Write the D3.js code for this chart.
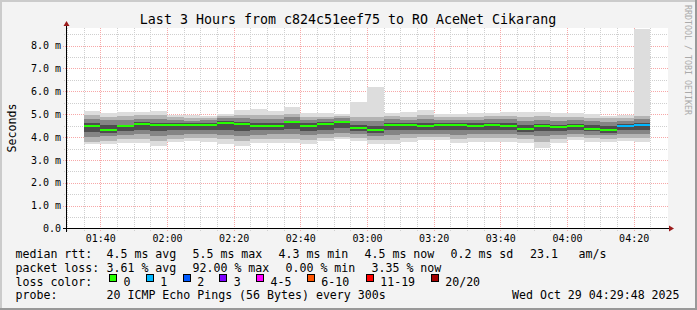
<!DOCTYPE html>
<html>
<head>
<meta charset="utf-8">
<script src="https://d3js.org/d3.v7.min.js"></script>
<style>
  body { margin: 0; background: #fff; }
  svg text { font-family: "DejaVu Sans Mono", monospace; fill: #000; }
</style>
</head>
<body>
<script>

// 5 minute steps, end time of each step
var times = ["01:40","01:45","01:50","01:55","02:00","02:05","02:10","02:15","02:20","02:25",
             "02:30","02:35","02:40","02:45","02:50","02:55","03:00","03:05","03:10","03:15",
             "03:20","03:25","03:30","03:35","03:40","03:45","03:50","03:55","04:00","04:05",
             "04:10","04:15","04:20","04:25"];

// smoke bands in ms (outer -> inner) and median
var pingMin = [3.68,3.68,3.75,3.75,3.62,3.78,3.83,3.80,3.71,3.62,3.75,3.75,3.75,3.68,3.83,3.90,3.83,
               3.68,3.68,3.80,3.87,3.87,3.72,3.80,3.80,3.80,3.72,3.53,3.72,3.87,3.80,3.78,3.83,3.77];
var band2lo = [3.80,3.85,3.90,3.92,3.85,3.92,3.95,3.95,3.90,3.85,3.92,3.92,3.92,3.88,3.98,4.02,3.98,
               3.88,3.88,3.95,4.00,4.00,3.92,3.95,3.95,3.95,3.90,3.80,3.90,4.00,3.95,3.92,3.98,3.95];
var band3lo = [4.02,4.05,4.10,4.12,4.05,4.10,4.12,4.12,4.10,4.05,4.10,4.12,4.12,4.08,4.15,4.18,4.12,
               4.05,4.08,4.12,4.15,4.15,4.10,4.12,4.12,4.12,4.08,4.05,4.08,4.15,4.10,4.08,4.12,4.12];
var band4lo = [4.24,4.20,4.25,4.30,4.28,4.30,4.32,4.30,4.32,4.28,4.30,4.30,4.35,4.28,4.32,4.38,4.28,
               4.20,4.30,4.30,4.32,4.32,4.30,4.30,4.32,4.30,4.22,4.28,4.25,4.30,4.25,4.20,4.30,4.30];
var median  = [4.47,4.32,4.47,4.57,4.54,4.54,4.54,4.54,4.63,4.57,4.50,4.50,4.64,4.50,4.57,4.64,4.39,
               4.32,4.54,4.51,4.50,4.54,4.54,4.50,4.54,4.50,4.37,4.47,4.42,4.47,4.37,4.32,4.50,4.54];
var band4hi = [4.60,4.55,4.55,4.65,4.62,4.60,4.60,4.62,4.70,4.66,4.62,4.60,4.72,4.60,4.65,4.70,4.55,
               4.50,4.62,4.60,4.60,4.62,4.62,4.60,4.62,4.60,4.52,4.58,4.55,4.58,4.52,4.48,4.58,4.62];
var band3hi = [4.79,4.75,4.75,4.80,4.78,4.75,4.72,4.75,4.82,4.82,4.80,4.78,4.88,4.75,4.78,4.82,4.72,
               4.70,4.78,4.75,4.78,4.75,4.75,4.75,4.78,4.78,4.72,4.75,4.72,4.75,4.70,4.65,4.72,4.78];
var band2hi = [4.96,4.90,4.92,4.95,4.95,4.88,4.85,4.85,4.92,4.98,4.98,4.95,5.02,4.90,4.90,4.92,4.88,
               4.88,4.92,4.90,4.95,4.88,4.88,4.90,4.92,4.92,4.90,4.92,4.88,4.90,4.85,4.82,4.85,4.92];
var pingMax = [5.14,5.04,5.08,5.08,5.14,4.98,4.98,4.92,5.00,5.18,5.22,5.14,5.32,5.04,5.04,5.00,5.52,
               6.20,5.04,5.08,5.18,5.00,5.00,5.04,5.04,5.08,5.08,5.08,5.04,5.04,5.00,4.93,4.98,8.80];
// lost pings out of 20
var lost    = [0,0,0,0,0,0,0,0,0,0,0,0,0,0,0,0,0,0,0,0,0,0,0,0,0,0,0,0,0,0,0,0,1,1];

var yTicks = [0,1,2,3,4,5,6,7,8];
var lossLabels = ["0","1","2","3","4-5","6-10","11-19","20/20"];
var lossColors = ["#26ff00","#00b8ff","#0059ff","#7e00ff","#ff00ff","#ff5500","#ff0000","#a10000"];

var W = 697, H = 310;
var day = "2025-10-29T";

var svg = d3.select("body").append("svg")
    .attr("width", W)
    .attr("height", H);

// background and frame
svg.append("rect").attr("width", W).attr("height", H).attr("fill", "#f3f3f3");
svg.append("rect").attr("x", 0).attr("y", 0).attr("width", W).attr("height", 2).attr("fill", "#cbcbcb");
svg.append("rect").attr("x", 0).attr("y", 0).attr("width", 2).attr("height", H).attr("fill", "#cbcbcb");
svg.append("rect").attr("x", W - 2).attr("y", 0).attr("width", 2).attr("height", H).attr("fill", "#999");
svg.append("rect").attr("x", 0).attr("y", H - 2).attr("width", W).attr("height", 2).attr("fill", "#999");

var x = d3.scaleUtc()
    .domain([new Date(day + "01:30:00Z"), new Date(day + "04:30:00Z")])
    .range([67, 667]);
var y = d3.scaleLinear()
    .domain([0, 8.75])
    .range([228.5, 28.5]);

// canvas
svg.append("rect").attr("x", 67).attr("y", 28).attr("width", 601).attr("height", 201).attr("fill", "#fff");

var grid = svg.append("g");
var minorT = d3.utcMinute.every(5).range(x.domain()[0], x.domain()[1]).filter(function(t) { return t.getUTCMinutes() % 20 != 0; });
var majorT = x.ticks(d3.utcMinute.every(20));

grid.selectAll(".vminor").data(minorT).enter().append("line")
    .attr("x1", function(d) { return Math.round(x(d)) + 0.5; })
    .attr("x2", function(d) { return Math.round(x(d)) + 0.5; })
    .attr("y1", 28).attr("y2", 231)
    .attr("stroke", "#cfcfcf").attr("stroke-dasharray", "1,1");

var halfTicks = yTicks.map(function(v) { return v + 0.5; });
grid.selectAll(".hminor").data(halfTicks).enter().append("line")
    .attr("x1", 64).attr("x2", 668)
    .attr("y1", function(d) { return Math.round(y(d)) + 0.5; })
    .attr("y2", function(d) { return Math.round(y(d)) + 0.5; })
    .attr("stroke", "#cfcfcf").attr("stroke-dasharray", "1,1");

grid.selectAll(".vmajor").data(majorT).enter().append("line")
    .attr("x1", function(d) { return Math.round(x(d)) + 0.5; })
    .attr("x2", function(d) { return Math.round(x(d)) + 0.5; })
    .attr("y1", 28).attr("y2", 232)
    .attr("stroke", "#f7a8a8").attr("stroke-dasharray", "1,1");

grid.selectAll(".hmajor").data(yTicks.slice(1)).enter().append("line")
    .attr("x1", 63).attr("x2", 668)
    .attr("y1", function(d) { return Math.round(y(d)) + 0.5; })
    .attr("y2", function(d) { return Math.round(y(d)) + 0.5; })
    .attr("stroke", "#f7a8a8").attr("stroke-dasharray", "1,1");

// smoke
var cols = times.map(function(t, i) {
  var end = new Date(day + t + ":00Z");
  return {
    x0: x(new Date(end.getTime() - 5 * 60000)), x1: x(end),
    bands: [[pingMin[i], pingMax[i]], [band2lo[i], band2hi[i]], [band3lo[i], band3hi[i]], [band4lo[i], band4hi[i]]],
    med: median[i], lost: lost[i]
  };
});
var shades = ["#dddddd", "#b4b4b4", "#858585", "#4e4e4e"];

var smoke = svg.append("g");
cols.forEach(function(c) {
  c.bands.forEach(function(b, k) {
    smoke.append("rect")
        .attr("x", Math.round(c.x0)).attr("width", Math.round(c.x1) - Math.round(c.x0))
        .attr("y", Math.round(y(Math.min(b[1], 8.75))))
        .attr("height", Math.round(y(b[0])) - Math.round(y(Math.min(b[1], 8.75))))
        .attr("fill", shades[k]);
  });
});

function lossColor(n) {
  if (n <= 3) return lossColors[n];
  if (n <= 5) return lossColors[4];
  if (n <= 10) return lossColors[5];
  if (n <= 19) return lossColors[6];
  return lossColors[7];
}

svg.append("g").selectAll("rect").data(cols).enter().append("rect")
    .attr("x", function(d) { return Math.round(d.x0); })
    .attr("width", function(d) { return Math.round(d.x1) - Math.round(d.x0); })
    .attr("y", function(d) { return Math.round(y(d.med)) - 1; })
    .attr("height", 2)
    .attr("fill", function(d) { return lossColor(d.lost); });

// axes lines and arrows
svg.append("line").attr("x1", 63).attr("x2", 670).attr("y1", 228.5).attr("y2", 228.5).attr("stroke", "#000");
svg.append("line").attr("x1", 66.5).attr("x2", 66.5).attr("y1", 232).attr("y2", 25).attr("stroke", "#000");
svg.append("path").attr("d", "M669,225.5 L674,228.5 L669,231.5 Z").attr("fill", "#9b1c1c");
svg.append("path").attr("d", "M63.5,26 L66.5,21 L69.5,26 Z").attr("fill", "#9b1c1c");

// tick labels
svg.append("g")
    .attr("transform", "translate(61,0)")
    .call(d3.axisLeft(y).tickValues(yTicks).tickSize(0).tickPadding(0)
      .tickFormat(function(v) { return v === 0 ? "0.0" : v.toFixed(1) + " m"; }))
    .call(function(g) { g.select(".domain").remove(); })
    .selectAll("text").style("font-size", "10px").style("font-family", "DejaVu Sans Mono");

svg.append("g")
    .attr("transform", "translate(0,228.5)")
    .call(d3.axisBottom(x).ticks(d3.utcMinute.every(20)).tickSize(0).tickPadding(6.5)
      .tickFormat(d3.utcFormat("%H:%M")))
    .call(function(g) { g.select(".domain").remove(); })
    .selectAll("text").style("font-size", "10px").style("font-family", "DejaVu Sans Mono");

// titles
svg.append("text").attr("x", 348).attr("y", 24).attr("text-anchor", "middle")
    .style("font-size", "13.3px")
    .text("Last 3 Hours from c824c51eef75 to RO AceNet Cikarang");

svg.append("text").attr("transform", "translate(15.5,128) rotate(-90)").attr("text-anchor", "middle")
    .style("font-size", "11.6px").text("Seconds");

svg.append("text").attr("transform", "translate(685,5) rotate(90)")
    .style("font-size", "8.3px").style("fill", "#aaa").text("RRDTOOL / TOBI OETIKER");

// legend
var legend = [
  [15.5, 258, "median rtt:"], [106.5, 258, "4.5 ms avg"], [192.5, 258, "5.5 ms max"],
  [278.5, 258, "4.3 ms min"], [364.5, 258, "4.5 ms now"], [450.5, 258, "0.2 ms sd"],
  [530, 258, "23.1"], [578.5, 258, "am/s"],
  [15.5, 272, "packet loss:"], [106.5, 272, "3.61 % avg"], [192.5, 272, "92.00 % max"],
  [285.5, 272, "0.00 % min"], [371.5, 272, "3.35 % now"],
  [15.5, 285.5, "loss color:"],
  [15.5, 299, "probe:"], [106.5, 299, "20 ICMP Echo Pings (56 Bytes) every 300s"],
  [512, 299, "Wed Oct 29 04:29:48 2025"]
];
svg.append("g").selectAll("text").data(legend).enter().append("text")
    .attr("x", function(d) { return d[0]; })
    .attr("y", function(d) { return d[1]; })
    .style("font-size", "11.6px")
    .text(function(d) { return d[2]; });

var boxX = [109, 145.7, 182.7, 219.3, 256, 306.7, 365.7, 430.7];
var lg = svg.append("g").selectAll("g").data(lossLabels).enter().append("g");
lg.append("rect")
    .attr("x", function(d, i) { return Math.round(boxX[i]) + 0.5; })
    .attr("y", 274.5).attr("width", 7).attr("height", 7)
    .attr("fill", function(d, i) { return lossColors[i]; })
    .attr("stroke", "#000");
lg.append("text")
    .attr("x", function(d, i) { return boxX[i] + 14.5; })
    .attr("y", 285.5)
    .style("font-size", "11.6px")
    .text(function(d) { return d; });

</script>
</body>
</html>
